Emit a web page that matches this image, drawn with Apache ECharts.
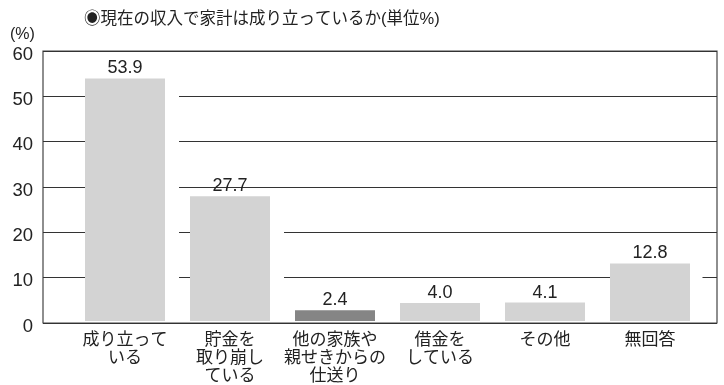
<!DOCTYPE html>
<html><head><meta charset="utf-8">
<script src="https://cdn.jsdelivr.net/npm/echarts@6/dist/echarts.min.js"></script>
<style>html,body{margin:0;padding:0;background:#fff}#c{width:724px;height:385px}</style>
</head><body><div id="c"></div>
<script>
const categories = ['成り立って\nいる', '貯金を\n取り崩し\nている', '他の家族や\n親せきからの\n仕送り', '借金を\nしている', 'その他', '無回答'];
const values = [53.9, 27.7, 2.4, 4.0, 4.1, 12.8];
const yTicks = [0, 10, 20, 30, 40, 50, 60];
const titleText = '◉現在の収入で家計は成り立っているか(単位%)';
const unitText = '(%)';

const FONT = '"Liberation Sans", "Noto Sans CJK JP", sans-serif';
const chart = echarts.init(document.getElementById('c'), null, {renderer: 'canvas'});
chart.setOption({
  animation: false,
  backgroundColor: '#fff',
  title: [
    {text: titleText, left: 79, top: 6, textStyle: {fontFamily: FONT, fontSize: 16.5, fontWeight: 'normal', color: '#222'}},
    {text: unitText, left: 5, top: 22, textStyle: {fontFamily: FONT, fontSize: 16, fontWeight: 'normal', color: '#222'}}
  ],
  grid: [
    {left: 72.5, right: 21.5, top: 51, bottom: 62, show: false},
    {left: 43, right: 7, top: 51, bottom: 62, show: true, borderColor: '#444', borderWidth: 1.2, z: 0}
  ],
  xAxis: [
    {type: 'category', gridIndex: 0, data: categories,
     axisLine: {show: false}, axisTick: {show: false},
     axisLabel: {fontFamily: FONT, fontSize: 17, color: '#222', lineHeight: 18, margin: 10, interval: 0}},
    {type: 'value', gridIndex: 1, min: 0, max: 1, show: false}
  ],
  yAxis: [
    {type: 'value', gridIndex: 0, min: 0, max: 60, interval: 10, show: false},
    {type: 'value', gridIndex: 1, min: yTicks[0], max: yTicks[yTicks.length - 1], interval: 10,
     axisLine: {show: false}, axisTick: {show: false},
     axisLabel: {fontFamily: FONT, fontSize: 18.5, color: '#222', margin: 10,
                 formatter: v => '{a|' + v + '}',
                 rich: {a: {fontFamily: FONT, fontSize: 18.5, color: '#222', padding: [7, 0, 0, 0]}}},
     splitLine: {show: true, lineStyle: {color: '#333', width: 1}}}
  ],
  series: [{
    type: 'bar', xAxisIndex: 0, yAxisIndex: 0, silent: true,
    data: values,
    barWidth: 94,
    z: 3,
    itemStyle: {color: '#fff'}
  }, {
    type: 'bar', xAxisIndex: 0, yAxisIndex: 0,
    data: values.map((v, i) => ({value: v, itemStyle: {color: i === 2 ? '#858585' : '#d3d3d3'}})),
    barWidth: 80,
    barGap: '-100%',
    z: 5,
    label: {show: true, position: 'top', distance: 1, fontFamily: FONT, fontSize: 18, color: '#222',
            formatter: p => p.value.toFixed(1)}
  }]
});
</script></body></html>
